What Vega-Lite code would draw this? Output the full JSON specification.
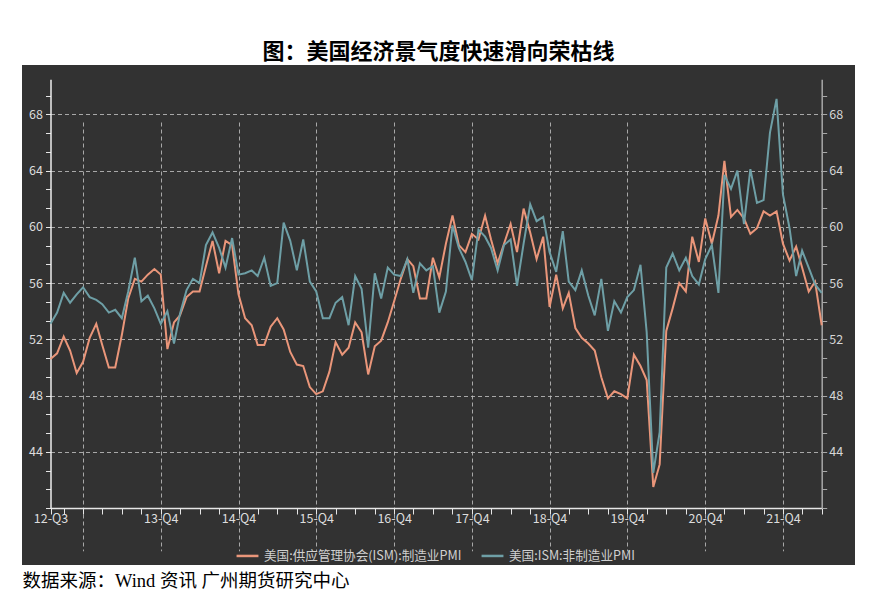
{
"$schema": "https://vega.github.io/schema/vega-lite/v6.json",
"width": 833, "height": 500,
"autosize": {"type": "none"},
"padding": {"left": 22, "top": 65, "right": 24, "bottom": 32},
"background": "#ffffff",
"config": {"view": {"fill": "#323232", "stroke": null}, "font": "Noto Sans CJK SC"},
"title": {"text": "图：美国经济景气度快速滑向荣枯线", "fontSize": 22, "fontWeight": "bold", "font": "Noto Sans CJK SC", "color": "#000000", "anchor": "middle", "baseline": "bottom", "offset": -21},
"data": {"values": [
{"date":"2012-07-01","mfg":50.6,"svc":53.1},{"date":"2012-08-01","mfg":51.0,"svc":53.9},{"date":"2012-09-01","mfg":52.2,"svc":55.3},{"date":"2012-10-01","mfg":51.2,"svc":54.6},{"date":"2012-11-01","mfg":49.6,"svc":55.2},{"date":"2012-12-01","mfg":50.4,"svc":55.7},
{"date":"2013-01-01","mfg":52.1,"svc":55.0},{"date":"2013-02-01","mfg":53.1,"svc":54.8},{"date":"2013-03-01","mfg":51.6,"svc":54.5},{"date":"2013-04-01","mfg":50.0,"svc":53.9},{"date":"2013-05-01","mfg":50.0,"svc":54.1},{"date":"2013-06-01","mfg":52.3,"svc":53.5},
{"date":"2013-07-01","mfg":54.9,"svc":55.4},{"date":"2013-08-01","mfg":56.3,"svc":57.8},{"date":"2013-09-01","mfg":56.1,"svc":54.7},{"date":"2013-10-01","mfg":56.6,"svc":55.1},{"date":"2013-11-01","mfg":57.0,"svc":54.2},{"date":"2013-12-01","mfg":56.6,"svc":53.1},
{"date":"2014-01-01","mfg":51.3,"svc":54.0},{"date":"2014-02-01","mfg":53.2,"svc":51.7},{"date":"2014-03-01","mfg":53.7,"svc":53.8},{"date":"2014-04-01","mfg":55.0,"svc":55.5},{"date":"2014-05-01","mfg":55.4,"svc":56.3},{"date":"2014-06-01","mfg":55.4,"svc":56.0},
{"date":"2014-07-01","mfg":57.2,"svc":58.7},{"date":"2014-08-01","mfg":59.0,"svc":59.6},{"date":"2014-09-01","mfg":56.7,"svc":58.5},{"date":"2014-10-01","mfg":59.0,"svc":57.1},{"date":"2014-11-01","mfg":58.7,"svc":59.2},{"date":"2014-12-01","mfg":55.2,"svc":56.6},
{"date":"2015-01-01","mfg":53.5,"svc":56.7},{"date":"2015-02-01","mfg":53.0,"svc":56.9},{"date":"2015-03-01","mfg":51.6,"svc":56.5},{"date":"2015-04-01","mfg":51.6,"svc":57.8},{"date":"2015-05-01","mfg":52.9,"svc":55.8},{"date":"2015-06-01","mfg":53.5,"svc":56.0},
{"date":"2015-07-01","mfg":52.7,"svc":60.3},{"date":"2015-08-01","mfg":51.1,"svc":59.0},{"date":"2015-09-01","mfg":50.2,"svc":56.9},{"date":"2015-10-01","mfg":50.1,"svc":59.1},{"date":"2015-11-01","mfg":48.6,"svc":56.1},{"date":"2015-12-01","mfg":48.1,"svc":55.4},
{"date":"2016-01-01","mfg":48.3,"svc":53.5},{"date":"2016-02-01","mfg":49.7,"svc":53.5},{"date":"2016-03-01","mfg":51.8,"svc":54.6},{"date":"2016-04-01","mfg":50.9,"svc":55.0},{"date":"2016-05-01","mfg":51.4,"svc":53.0},{"date":"2016-06-01","mfg":53.2,"svc":56.5},
{"date":"2016-07-01","mfg":52.5,"svc":55.6},{"date":"2016-08-01","mfg":49.5,"svc":51.4},{"date":"2016-09-01","mfg":51.5,"svc":56.7},{"date":"2016-10-01","mfg":51.9,"svc":54.9},{"date":"2016-11-01","mfg":53.2,"svc":57.1},{"date":"2016-12-01","mfg":54.7,"svc":56.6},
{"date":"2017-01-01","mfg":56.3,"svc":56.5},{"date":"2017-02-01","mfg":57.7,"svc":57.7},{"date":"2017-03-01","mfg":57.2,"svc":55.3},{"date":"2017-04-01","mfg":54.9,"svc":57.4},{"date":"2017-05-01","mfg":54.9,"svc":56.9},{"date":"2017-06-01","mfg":57.8,"svc":57.2},
{"date":"2017-07-01","mfg":56.4,"svc":53.9},{"date":"2017-08-01","mfg":58.8,"svc":55.4},{"date":"2017-09-01","mfg":60.8,"svc":60.1},{"date":"2017-10-01","mfg":58.7,"svc":58.5},{"date":"2017-11-01","mfg":58.2,"svc":57.5},{"date":"2017-12-01","mfg":59.5,"svc":56.2},
{"date":"2018-01-01","mfg":59.1,"svc":59.8},{"date":"2018-02-01","mfg":60.8,"svc":59.3},{"date":"2018-03-01","mfg":59.1,"svc":58.5},{"date":"2018-04-01","mfg":57.4,"svc":56.9},{"date":"2018-05-01","mfg":58.8,"svc":58.7},{"date":"2018-06-01","mfg":60.2,"svc":59.1},
{"date":"2018-07-01","mfg":58.2,"svc":55.8},{"date":"2018-08-01","mfg":61.3,"svc":58.8},{"date":"2018-09-01","mfg":59.6,"svc":61.6},{"date":"2018-10-01","mfg":57.7,"svc":60.4},{"date":"2018-11-01","mfg":59.3,"svc":60.7},{"date":"2018-12-01","mfg":54.3,"svc":58.2},
{"date":"2019-01-01","mfg":56.6,"svc":56.8},{"date":"2019-02-01","mfg":54.2,"svc":59.7},{"date":"2019-03-01","mfg":55.3,"svc":56.1},{"date":"2019-04-01","mfg":52.8,"svc":55.5},{"date":"2019-05-01","mfg":52.1,"svc":56.9},{"date":"2019-06-01","mfg":51.7,"svc":55.1},
{"date":"2019-07-01","mfg":51.2,"svc":53.7},{"date":"2019-08-01","mfg":49.3,"svc":56.3},{"date":"2019-09-01","mfg":47.8,"svc":52.6},{"date":"2019-10-01","mfg":48.3,"svc":54.7},{"date":"2019-11-01","mfg":48.1,"svc":53.9},{"date":"2019-12-01","mfg":47.8,"svc":55.0},
{"date":"2020-01-01","mfg":50.9,"svc":55.5},{"date":"2020-02-01","mfg":50.1,"svc":57.3},{"date":"2020-03-01","mfg":49.1,"svc":52.5},{"date":"2020-04-01","mfg":41.5,"svc":42.5},{"date":"2020-05-01","mfg":43.1,"svc":45.4},{"date":"2020-06-01","mfg":52.6,"svc":57.1},
{"date":"2020-07-01","mfg":54.2,"svc":58.1},{"date":"2020-08-01","mfg":56.0,"svc":56.9},{"date":"2020-09-01","mfg":55.4,"svc":57.8},{"date":"2020-10-01","mfg":59.3,"svc":56.5},{"date":"2020-11-01","mfg":57.5,"svc":55.9},{"date":"2020-12-01","mfg":60.6,"svc":57.7},
{"date":"2021-01-01","mfg":58.8,"svc":58.7},{"date":"2021-02-01","mfg":60.8,"svc":55.3},{"date":"2021-03-01","mfg":64.7,"svc":63.7},{"date":"2021-04-01","mfg":60.7,"svc":62.7},{"date":"2021-05-01","mfg":61.2,"svc":64.0},{"date":"2021-06-01","mfg":60.6,"svc":60.2},
{"date":"2021-07-01","mfg":59.5,"svc":64.1},{"date":"2021-08-01","mfg":59.9,"svc":61.7},{"date":"2021-09-01","mfg":61.1,"svc":61.9},{"date":"2021-10-01","mfg":60.8,"svc":66.7},{"date":"2021-11-01","mfg":61.1,"svc":69.1},{"date":"2021-12-01","mfg":58.8,"svc":62.3},
{"date":"2022-01-01","mfg":57.6,"svc":59.9},{"date":"2022-02-01","mfg":58.6,"svc":56.5},{"date":"2022-03-01","mfg":57.1,"svc":58.3},{"date":"2022-04-01","mfg":55.4,"svc":57.1},{"date":"2022-05-01","mfg":56.1,"svc":55.9},{"date":"2022-06-01","mfg":53.0,"svc":55.3}
]},
"encoding": {
  "x": {"field": "date", "type": "temporal",
    "scale": {"type": "utc", "nice": false, "domain": [{"year":2012,"month":7,"date":1,"utc":true},{"year":2022,"month":6,"date":1,"utc":true}], "range": [28.5, 799.7]},
    "axis": {"orient": "bottom", "offset": -57,
      "values": [
        {"year":2012,"month":7,"date":1,"utc":true},{"year":2012,"month":9,"date":1,"utc":true},{"year":2012,"month":12,"date":1,"utc":true},
        {"year":2013,"month":3,"date":1,"utc":true},{"year":2013,"month":6,"date":1,"utc":true},{"year":2013,"month":9,"date":1,"utc":true},{"year":2013,"month":12,"date":1,"utc":true},
        {"year":2014,"month":3,"date":1,"utc":true},{"year":2014,"month":6,"date":1,"utc":true},{"year":2014,"month":9,"date":1,"utc":true},{"year":2014,"month":12,"date":1,"utc":true},
        {"year":2015,"month":3,"date":1,"utc":true},{"year":2015,"month":6,"date":1,"utc":true},{"year":2015,"month":9,"date":1,"utc":true},{"year":2015,"month":12,"date":1,"utc":true},
        {"year":2016,"month":3,"date":1,"utc":true},{"year":2016,"month":6,"date":1,"utc":true},{"year":2016,"month":9,"date":1,"utc":true},{"year":2016,"month":12,"date":1,"utc":true},
        {"year":2017,"month":3,"date":1,"utc":true},{"year":2017,"month":6,"date":1,"utc":true},{"year":2017,"month":9,"date":1,"utc":true},{"year":2017,"month":12,"date":1,"utc":true},
        {"year":2018,"month":3,"date":1,"utc":true},{"year":2018,"month":6,"date":1,"utc":true},{"year":2018,"month":9,"date":1,"utc":true},{"year":2018,"month":12,"date":1,"utc":true},
        {"year":2019,"month":3,"date":1,"utc":true},{"year":2019,"month":6,"date":1,"utc":true},{"year":2019,"month":9,"date":1,"utc":true},{"year":2019,"month":12,"date":1,"utc":true},
        {"year":2020,"month":3,"date":1,"utc":true},{"year":2020,"month":6,"date":1,"utc":true},{"year":2020,"month":9,"date":1,"utc":true},{"year":2020,"month":12,"date":1,"utc":true},
        {"year":2021,"month":3,"date":1,"utc":true},{"year":2021,"month":6,"date":1,"utc":true},{"year":2021,"month":9,"date":1,"utc":true},{"year":2021,"month":12,"date":1,"utc":true},
        {"year":2022,"month":3,"date":1,"utc":true},{"year":2022,"month":6,"date":1,"utc":true}
      ],
      "labelExpr": "utcmonth(datum.value) === 6 && utcyear(datum.value) === 2012 ? '12-Q3' : (utcmonth(datum.value) === 11 && utcyear(datum.value) > 2012 ? (utcyear(datum.value) - 2000) + '-Q4' : '')",
      "labelFlush": false, "labelOverlap": false, "labelColor": "#dddddd", "labelFontSize": 12.5, "labelPadding": -2,
      "domainColor": "#e6e6e6", "domainWidth": 1.5, "tickColor": "#e6e6e6", "tickSize": 6, "tickWidth": 1,
      "grid": true, "gridColor": "#bdbdbd", "gridDash": [4, 3], "gridWidth": 1,
      "gridOpacity": {"condition": {"test": "utcmonth(datum.value) === 11", "value": 0.85}, "value": 0},
      "title": "数据来源：Wind 资讯  广州期货研究中心", "titleX": 0, "titleY": 72, "titleAlign": "left", "titleAnchor": "start", "titleBaseline": "middle",
      "titleFontSize": 18.5, "titleFontWeight": "normal", "titleColor": "#000000", "titleFont": "Liberation Serif, Noto Sans CJK SC"}
  }
},
"layer": [
  {"mark": {"type": "line", "strokeWidth": 2, "interpolate": "linear"},
   "encoding": {
     "y": {"field": "mfg", "type": "quantitative",
       "scale": {"domain": [40, 70.5], "range": [443, 14.2], "nice": false, "zero": false},
       "axis": {"orient": "left", "offset": -28.5, "title": null,
         "values": [40, 41.333, 42.667, 44, 45.333, 46.667, 48, 49.333, 50.667, 52, 53.333, 54.667, 56, 57.333, 58.667, 60, 61.333, 62.667, 64, 65.333, 66.667, 68, 69.333],
         "labelExpr": "datum.value % 4 === 0 && datum.value > 40 ? datum.value : ''",
         "labelColor": "#dddddd", "labelFontSize": 12.5, "labelPadding": 3, "labelOverlap": false, "labelFlush": false,
         "domainColor": "#eeeeee", "domainWidth": 1.5, "tickColor": "#e6e6e6", "tickSize": 5,
         "grid": true, "gridColor": "#bdbdbd", "gridDash": [4, 3], "gridWidth": 1,
         "gridOpacity": {"condition": {"test": "datum.value % 4 === 0 && datum.value > 40", "value": 0.85}, "value": 0}}},
     "color": {"datum": "美国:供应管理协会(ISM):制造业PMI", "type": "nominal",
       "scale": {"domain": ["美国:供应管理协会(ISM):制造业PMI", "美国:ISM:非制造业PMI"], "range": ["#EA967A", "#6E9FA6"]},
       "legend": {"orient": "none", "legendX": 213, "legendY": 478, "direction": "horizontal", "title": null,
         "labelColor": "#d0d0d0", "labelFontSize": 12.6, "labelFont": "Noto Sans CJK SC", "labelLimit": 400, "symbolSize": 480, "symbolStrokeWidth": 2.5,
         "columnPadding": 14, "labelOffset": 4}}
   }},
  {"mark": {"type": "line", "strokeWidth": 2, "interpolate": "linear"},
   "encoding": {
     "y": {"field": "svc", "type": "quantitative",
       "scale": {"domain": [40, 70.5], "range": [443, 14.2], "nice": false, "zero": false},
       "axis": {"orient": "right", "offset": -33.3, "title": null,
         "values": [40, 41.333, 42.667, 44, 45.333, 46.667, 48, 49.333, 50.667, 52, 53.333, 54.667, 56, 57.333, 58.667, 60, 61.333, 62.667, 64, 65.333, 66.667, 68, 69.333],
         "labelExpr": "datum.value % 4 === 0 && datum.value > 40 ? datum.value : ''",
         "labelColor": "#d6d6d6", "labelFontSize": 12.5, "labelPadding": 2, "labelOverlap": false, "labelFlush": false,
         "domainColor": "#a8a8a8", "domainWidth": 1.5, "tickColor": "#a8a8a8", "tickSize": 5, "grid": false}},
     "color": {"datum": "美国:ISM:非制造业PMI", "type": "nominal"}
   }}
],
"resolve": {"axis": {"y": "independent"}}
}
